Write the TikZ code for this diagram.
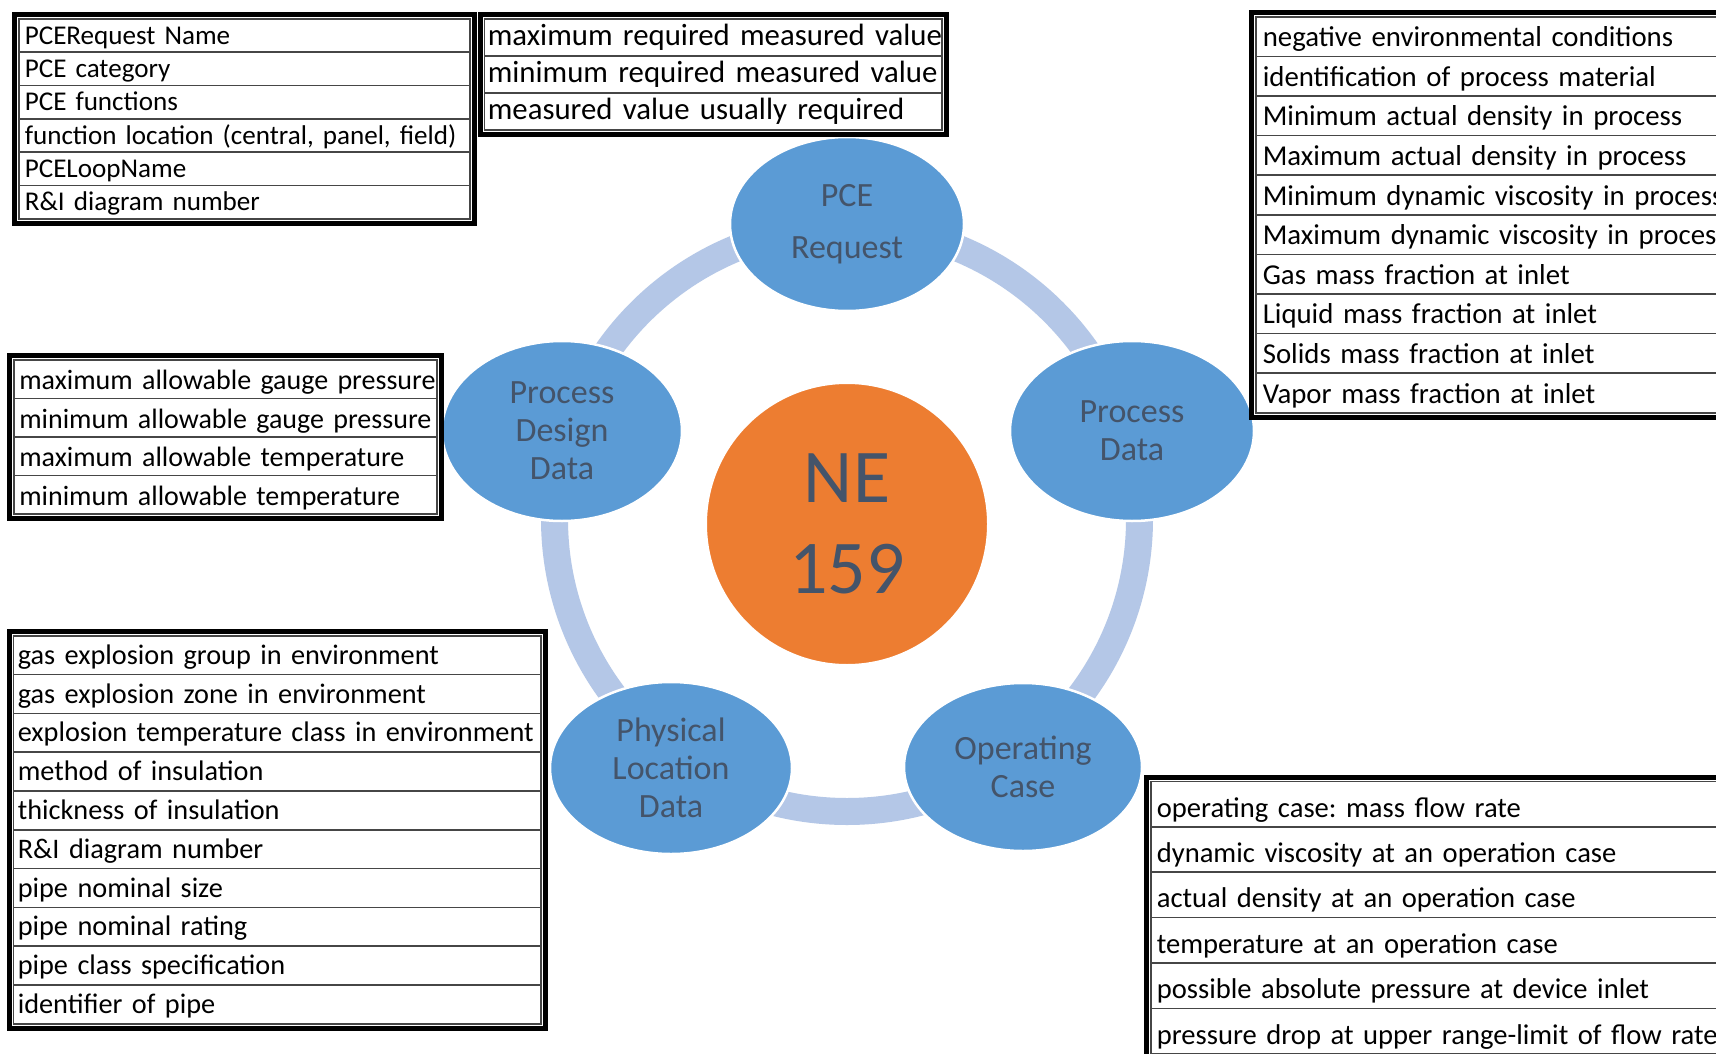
\documentclass[tikz,border=0pt]{standalone}
\usepackage{fontspec}
\setmainfont{Carlito}
\frenchspacing
\usetikzlibrary{shapes.geometric,fit}
\definecolor{nodeblue}{RGB}{91,155,213}
\definecolor{ringblue}{RGB}{180,199,231}
\definecolor{coreorange}{RGB}{237,125,49}
\definecolor{slate}{RGB}{68,84,106}
\definecolor{rulegray}{RGB}{70,70,70}
\begin{document}
\begin{tikzpicture}[x=1pt,y=-1pt,
  bubble/.style={ellipse, fill=nodeblue, draw=white, line width=2.5pt, inner sep=0pt,
    text=slate, align=center, font=\fontsize{34}{38}\selectfont},
  core/.style={circle, fill=coreorange, draw=white, line width=2pt, minimum size=282pt,
    inner sep=0pt, text=slate, align=center, font=\fontsize{76}{91}\selectfont},
  ring/.style={draw=ringblue, line width=27pt},
  cell/.style={draw=rulegray, fill=white, line width=1.6pt, anchor=north west,
    inner ysep=0pt, align=left},
  frame/.style={draw=black, line width=5pt, inner sep=3.5pt},
  tabA/.style={cell, inner xsep=6pt, text width=439pt, minimum height=33.33pt,
    text height=23.5pt, text depth=6.1pt, font=\fontsize{27.1}{33}\selectfont},
  tabB/.style={cell, inner xsep=3.5pt, text width=450.5pt, minimum height=37pt,
    text height=23.5pt, text depth=6.8pt, font=\fontsize{30.8}{36}\selectfont},
  tabC/.style={cell, inner xsep=5.5pt, text width=412pt, minimum height=38.5pt,
    text height=27.4pt, text depth=6.2pt, font=\fontsize{28}{34}\selectfont},
  tabD/.style={cell, inner xsep=4.5pt, text width=518.5pt, minimum height=38.8pt,
    text height=24.4pt, text depth=6.3pt, font=\fontsize{28.3}{34}\selectfont},
  tabE/.style={cell, inner xsep=7pt, text width=586pt, minimum height=39.6pt,
    text height=26.8pt, text depth=6.5pt, font=\fontsize{28.8}{35}\selectfont},
  tabF/.style={cell, inner xsep=6pt, text width=688pt, minimum height=45.4pt,
    text height=32.6pt, text depth=6.4pt, font=\fontsize{28.6}{35}\selectfont},
]
\useasboundingbox (0,0) rectangle (1716,1054);
\clip (0,0) rectangle (1716,1054);
\fill[white] (0,0) rectangle (1716,1054);

% ring
\coordinate (hub) at (847,519);
\draw[ring] (hub) circle[radius=292.5pt];

% bubbles
\node[bubble, minimum width=234pt, minimum height=174pt] (pce) at (847,224) {PCE\\[14pt]Request};
\node[bubble, minimum width=240pt, minimum height=180pt] (pdd) at (562,431) {Process\\Design\\Data};
\node[bubble, minimum width=244pt, minimum height=180pt] (pd) at (1132,431) {Process\\Data};
\node[bubble, minimum width=242pt, minimum height=172pt] (pld) at (671,768) {Physical\\Location\\Data};
\node[bubble, minimum width=238pt, minimum height=168pt] (oc) at (1023,767) {Operating\\Case};
\node[core] (ne) at (847,524) {NE\\159};

% table 1
\foreach \t [count=\i] in {PCERequest Name, PCE category, PCE functions,
  {function location (central, panel, field)}, PCELoopName, R\&I diagram number}
  \node[tabA] (a\i) at (18,{18+(\i-1)*33.33}) {\mbox{\t}};
\node[frame, fit=(a1)(a6)] (tA) {};

% table 2
\foreach \t [count=\i] in {maximum required measured value, minimum required measured value,
  measured value usually required}
  \node[tabB] (b\i) at (483.5,{18+(\i-1)*37}) {\mbox{\t}};
\node[frame, fit=(b1)(b3)] (tB) {};

% table 3
\foreach \t [count=\i] in {maximum allowable gauge pressure, minimum allowable gauge pressure,
  maximum allowable temperature, minimum allowable temperature}
  \node[tabC] (c\i) at (13,{359+(\i-1)*38.5}) {\mbox{\t}};
\node[frame, fit=(c1)(c4)] (tC) {};

% table 4
\foreach \t [count=\i] in {gas explosion group in environment, gas explosion zone in environment,
  explosion temperature class in environment, method of insulation, thickness of insulation,
  R\&I diagram number, pipe nominal size, pipe nominal rating, pipe class specification,
  identifier of pipe}
  \node[tabD] (d\i) at (12.5,{635+(\i-1)*38.8}) {\mbox{\t}};
\node[frame, fit=(d1)(d10)] (tD) {};

% table 5
\foreach \t [count=\i] in {negative environmental conditions, identification of process material,
  Minimum actual density in process, Maximum actual density in process,
  Minimum dynamic viscosity in process, Maximum dynamic viscosity in process,
  Gas mass fraction at inlet, Liquid mass fraction at inlet, Solids mass fraction at inlet,
  Vapor mass fraction at inlet}
  \node[tabE] (e\i) at (1255,{16+(\i-1)*39.6}) {\mbox{\t}};
\node[frame, fit=(e1)(e10)] (tE) {};

% table 6
\foreach \t [count=\i] in {operating case: mass flow rate, dynamic viscosity at an operation case,
  actual density at an operation case, temperature at an operation case,
  possible absolute pressure at device inlet, pressure drop at upper range-limit of flow rate}
  \node[tabF] (f\i) at (1150,{780.5+(\i-1)*45.4}) {\mbox{\t}};
\node[frame, fit=(f1)(f6)] (tF) {};
\end{tikzpicture}
\end{document}
